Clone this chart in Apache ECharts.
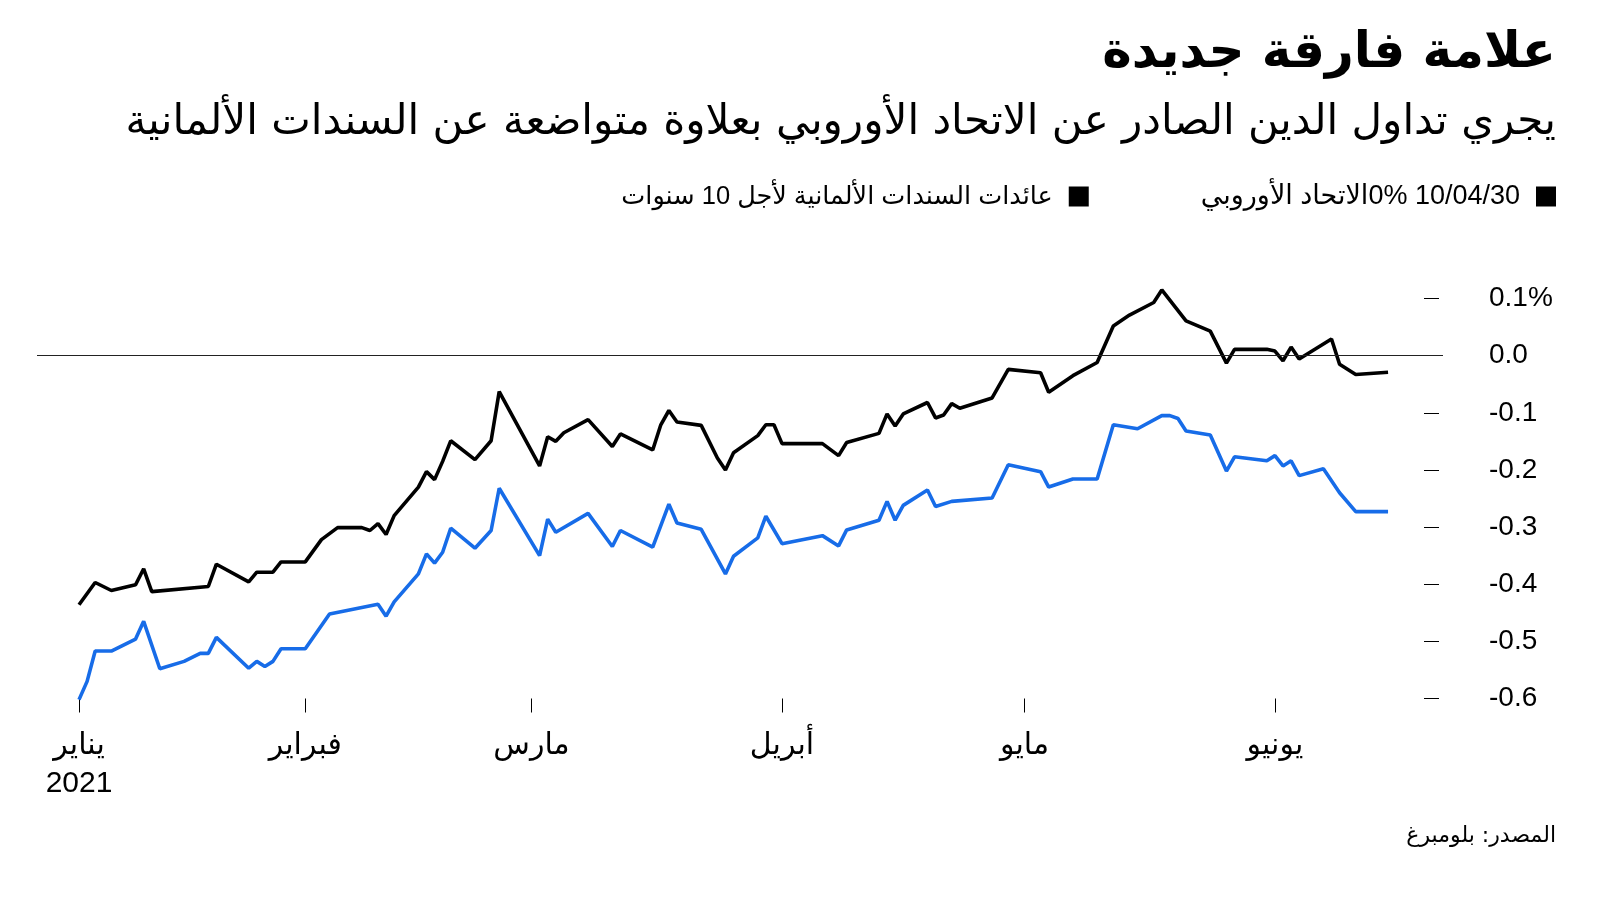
<!DOCTYPE html>
<html>
<head>
<meta charset="utf-8">
<script src="https://cdn.jsdelivr.net/npm/echarts@6/dist/echarts.min.js"></script>
<style>
html,body{margin:0;padding:0;background:#fff;}
#chart{width:1600px;height:900px;}
</style>
</head>
<body>
<div id="chart"></div>
<script>
// ---- Data ----
const euDates = ['2021-01-04','2021-01-06','2021-01-08','2021-01-11','2021-01-12','2021-01-13','2021-01-20','2021-01-21','2021-01-25','2021-01-26','2021-01-28','2021-01-29',
 '2021-02-01','2021-02-03','2021-02-05','2021-02-08','2021-02-09','2021-02-10','2021-02-11','2021-02-12','2021-02-15','2021-02-16','2021-02-17','2021-02-18','2021-02-19','2021-02-22','2021-02-24','2021-02-25',
 '2021-03-02','2021-03-03','2021-03-04','2021-03-05','2021-03-08','2021-03-11','2021-03-12','2021-03-16','2021-03-17','2021-03-18','2021-03-19','2021-03-22','2021-03-24','2021-03-25','2021-03-26','2021-03-29','2021-03-30','2021-03-31',
 '2021-04-01','2021-04-06','2021-04-08','2021-04-09','2021-04-13','2021-04-14','2021-04-15','2021-04-16','2021-04-19','2021-04-20','2021-04-21','2021-04-22','2021-04-23','2021-04-27','2021-04-29',
 '2021-05-03','2021-05-04','2021-05-07','2021-05-10','2021-05-12','2021-05-14','2021-05-17','2021-05-18','2021-05-21','2021-05-24','2021-05-26','2021-05-27','2021-05-31',
 '2021-06-01','2021-06-02','2021-06-03','2021-06-04','2021-06-08','2021-06-09','2021-06-11','2021-06-15'];
const euValues = [-0.436,-0.397,-0.411,-0.401,-0.373,-0.413,-0.404,-0.365,-0.396,-0.379,-0.379,-0.361,
 -0.361,-0.322,-0.301,-0.301,-0.306,-0.294,-0.313,-0.280,-0.230,-0.203,-0.217,-0.185,-0.149,-0.182,-0.149,-0.063,
 -0.193,-0.142,-0.150,-0.135,-0.112,-0.159,-0.137,-0.165,-0.121,-0.096,-0.116,-0.122,-0.179,-0.200,-0.170,-0.140,-0.121,-0.121,
 -0.154,-0.154,-0.175,-0.152,-0.136,-0.102,-0.123,-0.102,-0.082,-0.109,-0.104,-0.084,-0.092,-0.074,-0.024,
 -0.030,-0.064,-0.035,-0.012,0.052,0.071,0.093,0.115,0.061,0.043,-0.013,0.011,0.011,
 0.008,-0.009,0.015,-0.006,0.029,-0.015,-0.033,-0.029];

const deDates = ['2021-01-04','2021-01-05','2021-01-06','2021-01-08','2021-01-11','2021-01-12','2021-01-14','2021-01-17','2021-01-19','2021-01-20','2021-01-21','2021-01-25','2021-01-26','2021-01-27','2021-01-28','2021-01-29',
 '2021-02-01','2021-02-04','2021-02-10','2021-02-11','2021-02-12','2021-02-15','2021-02-16','2021-02-17','2021-02-18','2021-02-19','2021-02-22','2021-02-24','2021-02-25',
 '2021-03-02','2021-03-03','2021-03-04','2021-03-08','2021-03-11','2021-03-12','2021-03-16','2021-03-18','2021-03-19','2021-03-22','2021-03-25','2021-03-26','2021-03-29','2021-03-30',
 '2021-04-01','2021-04-06','2021-04-08','2021-04-09','2021-04-13','2021-04-14','2021-04-15','2021-04-16','2021-04-19','2021-04-20','2021-04-22','2021-04-27','2021-04-29',
 '2021-05-03','2021-05-04','2021-05-07','2021-05-10','2021-05-12','2021-05-15','2021-05-18','2021-05-19','2021-05-20','2021-05-21','2021-05-24','2021-05-26','2021-05-27','2021-05-31',
 '2021-06-01','2021-06-02','2021-06-03','2021-06-04','2021-06-07','2021-06-09','2021-06-11','2021-06-15'];
const deValues = [-0.602,-0.570,-0.517,-0.517,-0.496,-0.465,-0.548,-0.535,-0.521,-0.521,-0.493,-0.547,-0.535,-0.544,-0.535,-0.513,
 -0.513,-0.452,-0.435,-0.456,-0.431,-0.382,-0.347,-0.363,-0.344,-0.302,-0.337,-0.306,-0.232,
 -0.350,-0.286,-0.309,-0.276,-0.334,-0.306,-0.335,-0.260,-0.293,-0.304,-0.382,-0.351,-0.319,-0.281,
 -0.329,-0.315,-0.333,-0.305,-0.288,-0.255,-0.288,-0.262,-0.235,-0.264,-0.255,-0.249,-0.191,
 -0.203,-0.230,-0.216,-0.216,-0.121,-0.128,-0.105,-0.105,-0.110,-0.132,-0.139,-0.202,-0.177,-0.184,
 -0.175,-0.193,-0.184,-0.210,-0.198,-0.240,-0.273,-0.273];

const tickDates = ['2021-01-04','2021-02-01','2021-03-01','2021-04-01','2021-05-01','2021-06-01'];
const tickLabels = ['يناير\n2021','فبراير','مارس','أبريل','مايو','يونيو'];

const euName = '\u202B10/04/30 0%الاتحاد الأوروبي\u202C';
const deName = 'عائدات السندات الألمانية لأجل 10 سنوات';
const titleText = 'علامة فارقة جديدة';
const subtitleText = 'يجري تداول الدين الصادر عن الاتحاد الأوروبي بعلاوة متواضعة عن السندات الألمانية';
const sourceText = 'المصدر: بلومبرغ';

// ---- helpers ----
function ts(s){ const p = s.split('-').map(Number); return Date.UTC(p[0], p[1]-1, p[2]); }
const DAY = 86400000;
const start = ts('2021-01-04');
const tickTs = tickDates.map(ts);
const labelMap = new Map(tickTs.map((t,i)=>[t, tickLabels[i]]));
const euData = euDates.map((d,i)=>[ts(d), euValues[i]]);
const deData = deDates.map((d,i)=>[ts(d), deValues[i]]);

const NUM_FONT = "'Liberation Sans', 'DejaVu Sans', sans-serif";
const AR_FONT = "'DejaVu Sans', sans-serif";

const chart = echarts.init(document.getElementById('chart'), null, {renderer:'canvas'});
chart.setOption({
  animation: false,
  backgroundColor: '#fff',
  title: [
    {text: titleText, right: 44, top: 29, padding: 0,
     textStyle: {fontFamily: AR_FONT, fontWeight: 'bold', fontSize: 50, color: '#000'}},
    {text: subtitleText, right: 44, top: 102, padding: 0,
     textStyle: {fontFamily: AR_FONT, fontWeight: 'normal', fontSize: 42, color: '#000'}},
    {text: sourceText, right: 44, top: 825, padding: 0,
     textStyle: {fontFamily: AR_FONT, fontWeight: 'normal', fontSize: 22, color: '#000'}}
  ],
  legend: {
    right: 39, top: 178, align: 'right', orient: 'horizontal',
    itemWidth: 20, itemHeight: 20, itemGap: 112, icon: 'rect',
    selectedMode: false,
    textStyle: {fontFamily: NUM_FONT, fontSize: 27, color: '#000', padding: [0, 11, 0, 0]},
    data: [
      {name: deName, itemStyle: {color: '#000'}, textStyle: {fontSize: 25.5}},
      {name: euName, itemStyle: {color: '#000'}}
    ]
  },
  grid: {left: 37, right: 157, top: 298.5, height: 400, containLabel: false},
  xAxis: {
    type: 'value',
    min: start - 5.2*DAY,
    max: start + 168.8*DAY,
    axisLine: {show: false, onZero: false},
    splitLine: {show: false},
    axisTick: {show: true, length: 14, lineStyle: {color: '#000', width: 1}, customValues: tickTs},
    axisLabel: {
      customValues: tickTs,
      formatter: v => labelMap.get(v) || '',
      fontFamily: NUM_FONT, fontSize: 30, lineHeight: 38, color: '#000', margin: 28,
      hideOverlap: false
    }
  },
  yAxis: {
    type: 'value', position: 'right', min: -0.6, max: 0.1, interval: 0.1, offset: -4,
    axisLine: {show: false},
    splitLine: {show: false},
    axisTick: {show: true, inside: true, length: 15, lineStyle: {color: '#000', width: 1}},
    axisLabel: {
      margin: 50, align: 'left', fontFamily: NUM_FONT, fontSize: 28, color: '#000',
      formatter: v => { const r = Math.round(v*10)/10; if (r === 0.1) return '0.1%'; if (r === 0) return '0.0'; return r.toFixed(1); }
    }
  },
  series: [
    {name: deName, type: 'line', data: deData, showSymbol: false, clip: false,
     lineStyle: {color: '#176ce8', width: 3.6}, itemStyle: {color: '#176ce8'}, z: 3},
    {name: euName, type: 'line', data: euData, showSymbol: false, clip: false,
     lineStyle: {color: '#000', width: 3.6}, itemStyle: {color: '#000'}, z: 4,
     markLine: {silent: true, symbol: 'none', label: {show: false},
       lineStyle: {color: '#222', width: 1.2, type: 'solid'},
       data: [{yAxis: 0}]}}
  ]
});
</script>
</body>
</html>
